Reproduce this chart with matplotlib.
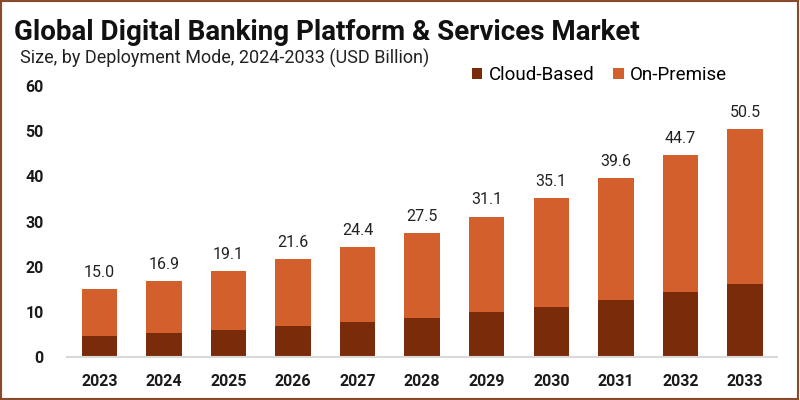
import numpy as np
import matplotlib.pyplot as plt
from matplotlib.patches import Rectangle

# data
years = ['2023', '2024', '2025', '2026', '2027', '2028', '2029', '2030', '2031', '2032', '2033']
totals = [15.0, 16.9, 19.1, 21.6, 24.4, 27.5, 31.1, 35.1, 39.6, 44.7, 50.5]
cloud = [4.6, 5.3, 5.9, 6.9, 7.8, 8.7, 9.9, 11.1, 12.6, 14.3, 16.1]
on_prem = [t - c for t, c in zip(totals, cloud)]

c_cloud = '#7a2c0a'
c_prem = '#d3602c'

plt.rcParams['font.family'] = ['Roboto', 'DejaVu Sans']

fig = plt.figure(figsize=(8, 4), dpi=100)
ax = fig.add_axes([0.084, 0.1075, 0.8875, 0.6775])

x = np.arange(len(years))
w = 0.55
ax.bar(x, cloud, w, color=c_cloud, label='Cloud-Based', zorder=2)
ax.bar(x, on_prem, w, bottom=cloud, color=c_prem, label='On-Premise', zorder=2)

for xi, t in zip(x, totals):
    ax.text(xi, t + 2.0, '%.1f' % t, ha='center', va='bottom', fontsize=11.5, color='#222222')

ax.set_xlim(-0.5, 10.5)
ax.set_ylim(0, 60)
ax.set_yticks([0, 10, 20, 30, 40, 50, 60])
ax.set_xticks(x)
ax.set_xticklabels(years)
for lab in ax.get_xticklabels() + ax.get_yticklabels():
    lab.set_fontweight('bold')
    lab.set_fontsize(11.5)
    lab.set_color('#1a1a1a')
ax.tick_params(axis='y', length=0, pad=17)
ax.tick_params(axis='x', length=0, pad=12)
for s in ['top', 'right', 'left']:
    ax.spines[s].set_visible(False)
ax.spines['bottom'].set_color('#d9d9d9')
ax.spines['bottom'].set_linewidth(1.5)

fig.text(0.017, 0.918, 'Global Digital Banking Platform & Services Market',
         fontsize=20, fontweight='bold', color='#111111', va='center')
fig.text(0.025, 0.855, 'Size, by Deployment Mode, 2024-2033 (USD Billion)',
         fontsize=13, color='#222222', va='center')

leg = fig.legend(loc='center left', bbox_to_anchor=(0.59, 0.8125), ncol=2, frameon=False,
                 fontsize=13.5, handlelength=0.55, handleheight=0.55, handletextpad=0.35,
                 columnspacing=1.0, borderpad=0, borderaxespad=0)

# border around the image
fig.patches.append(Rectangle((0.001, 0.002), 0.997, 0.995, transform=fig.transFigure,
                             fill=False, edgecolor='#8a4a2a', linewidth=1.5))

fig.savefig('out.png', dpi=100)
